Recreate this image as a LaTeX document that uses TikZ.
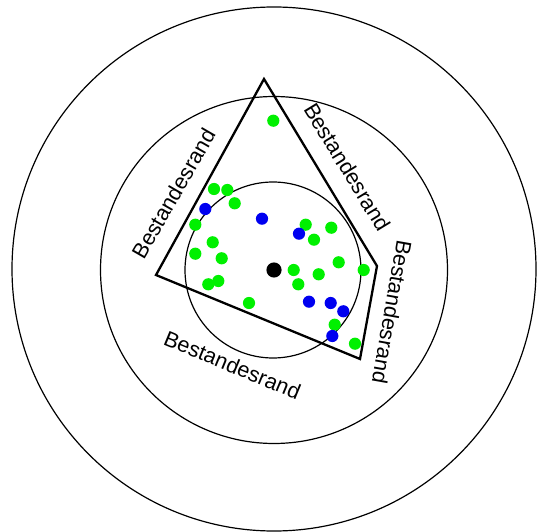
\documentclass[tikz,border=0pt]{standalone}
\usepackage{fontspec}
\setmainfont{Liberation Sans}
\begin{document}
\begin{tikzpicture}[x=1pt,y=-1pt,
  ring/.style={draw=black,line width=1.2pt},
  stand/.style={draw=black,line width=2.3pt,line join=miter},
  lbl/.style={inner sep=0pt,font=\fontsize{21.6}{24}\selectfont},
  gdot/.style={fill={rgb,255:red,0;green,240;blue,0}},
  bdot/.style={fill={rgb,255:red,0;green,0;blue,240}}]
\useasboundingbox (0,0) rectangle (547,532);
% rings
\draw[ring] (274,269) circle (262);
\draw[ring] (274,270) circle (173.5);
\draw[ring] (273,270) circle (88);
% stand boundary
\coordinate (p1) at (264,79);
\coordinate (p2) at (377,266);
\coordinate (p3) at (360,359);
\coordinate (p4) at (156,275);
\draw[stand] (p1) -- (p2) -- (p3) -- (p4) -- cycle;
% labels
\node[lbl,rotate=60] (l1) at (173.5,193.5) {Bestandesrand};
\node[lbl,rotate=-58.6] (l2) at (347.5,167) {Bestandesrand};
\node[lbl,rotate=-100] (l3) at (392,312) {Bestandesrand};
\node[lbl,rotate=-22.5] (l4) at (232.5,365) {Bestandesrand};
% green trees
\foreach \x/\y in {273.3/120.7, 214/189, 227.3/190, 234.7/203.3, 195.3/224.7,
  305.7/224.7, 331.3/227.7, 314/239.7, 212.7/242.3, 195.3/253.7, 221.7/258.3,
  338.7/262.3, 363.7/270, 293.7/270, 318.7/274.3, 298.3/284.3, 218.3/281,
  208.3/284.3, 249/303, 334.7/324.7, 355/343.7}
  \fill[gdot] (\x,\y) circle (6.1);
% blue trees
\foreach \x/\y in {205.3/209, 262/218.7, 299/233.7, 309/301.7, 330.7/303,
  343.3/311.3, 332.3/336}
  \fill[bdot] (\x,\y) circle (6.1);
% centre
\fill[black] (274,270) circle (7.6);
\end{tikzpicture}
\end{document}
